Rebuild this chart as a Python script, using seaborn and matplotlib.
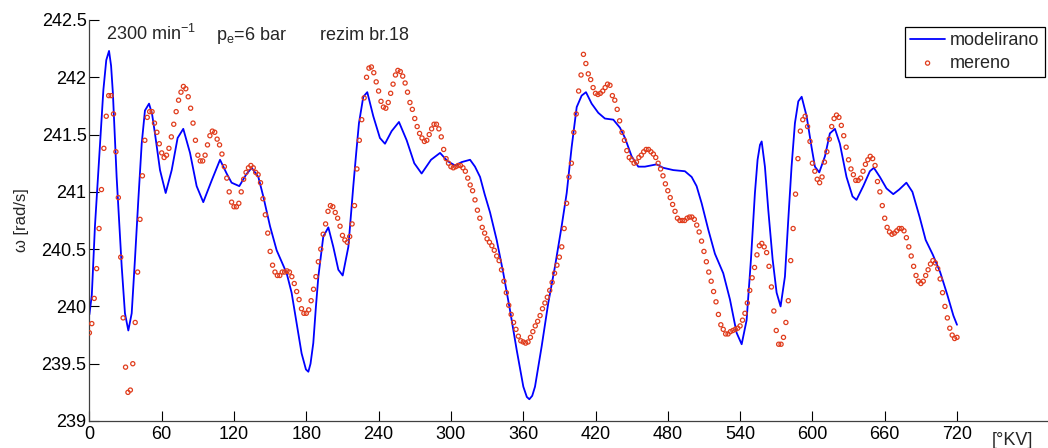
import matplotlib
matplotlib.use("Agg")
import matplotlib.pyplot as plt
import seaborn as sns

# model curve: crank angle [deg] and omega [rad/s]
mod_deg = [0, 2, 4.6, 8.8, 11.6, 14, 16.3, 18, 19.5, 22.6, 26.8, 29.5, 32.3, 35.1, 37.8,
           40.6, 43.4, 46.1, 49.5, 52, 54.4, 58.6, 63.3, 68.3, 73.2, 77.9, 83.5, 89.0, 94.5,
           101.5, 108.4, 113.9, 118, 124.4, 130, 134.7, 140.2, 144.3, 149.9, 155.4, 163.7,
           167.8, 172.0, 176.1, 179.7, 181.7, 183.5, 185.8, 188, 190.0, 194.1, 198.3, 202.4,
           206.6, 210.2, 214.9, 219.0, 221.5, 223.7, 227.3, 230.6, 235.6, 241.1, 245.3, 250.8,
           256.9, 263.3, 269.6, 275.7, 283.5, 291.0, 297, 303.4, 309, 315.9, 320, 324.2, 328,
           332.5, 338.0, 343.5, 349.0, 354.6, 360.1, 363, 365.1, 367.5, 369.8, 375.3, 380.8,
           386.4, 391.9, 396.1, 400.2, 404.4, 408.5, 412.1, 416.8, 422.3, 427.8, 434.8, 440.3,
           444.5, 450.0, 455.5, 461.0, 470.7, 476.2, 484.5, 494.2, 499.8, 503.9, 508.1, 513.6,
           519.1, 526.0, 531.6, 537.1, 541.3, 545.4, 549.0, 552.3, 554.5, 556.5, 557.9, 560.6,
           563.4, 567.0, 570.3, 573.6, 577.2, 580.0, 582.7, 585.5, 588.3, 591.1, 595.2, 599.3,
           602.1, 605.7, 610.4, 614.5, 618.7, 622.8, 628.3, 633.3, 636.6, 642.2, 647.7, 651.0,
           656.0, 661.5, 667.1, 672, 678, 683, 689, 694, 700, 706, 712, 717, 720]
mod_val = [239.93, 240.10, 240.70, 241.42, 241.89, 242.15, 242.23, 242.10, 241.86, 241.13,
           240.35, 239.94, 239.79, 239.94, 240.41, 240.93, 241.42, 241.71, 241.77, 241.68,
           241.51, 241.19, 240.99, 241.19, 241.47, 241.55, 241.34, 241.05, 240.91, 241.10,
           241.28, 241.16, 241.08, 241.05, 241.15, 241.21, 241.13, 240.96, 240.70, 240.49,
           240.29, 240.12, 239.85, 239.59, 239.45, 239.43, 239.50, 239.68, 240.00, 240.26,
           240.61, 240.69, 240.52, 240.32, 240.27, 240.52, 241.05, 241.35, 241.60, 241.83,
           241.87, 241.66, 241.47, 241.42, 241.53, 241.61, 241.45, 241.25, 241.16, 241.28,
           241.34, 241.27, 241.23, 241.26, 241.28, 241.22, 241.13, 240.98, 240.82, 240.58,
           240.29, 239.97, 239.62, 239.30, 239.21, 239.19, 239.22, 239.30, 239.65, 240.03,
           240.35, 240.70, 240.99, 241.39, 241.74, 241.84, 241.87, 241.77, 241.69, 241.64,
           241.63, 241.56, 241.47, 241.31, 241.22, 241.22, 241.24, 241.21, 241.19, 241.18,
           241.13, 241.05, 240.90, 240.67, 240.46, 240.29, 240.06, 239.77, 239.67, 239.88,
           240.41, 240.99, 241.28, 241.41, 241.44, 241.22, 240.84, 240.41, 240.12, 240.00,
           240.26, 240.76, 241.22, 241.60, 241.79, 241.83, 241.66, 241.39, 241.22, 241.17,
           241.31, 241.51, 241.55, 241.42, 241.13, 240.96, 240.93, 241.05, 241.18, 241.21,
           241.13, 241.03, 240.98, 241.02, 241.08, 241.00, 240.78, 240.58, 240.45, 240.30,
           240.10, 239.92, 239.84]

# measured points, every 2 deg crank angle
mer_deg = list(range(0, 721, 2))
mer_val = [
    239.77, 239.85, 240.07, 240.33, 240.68, 241.02, 241.38, 241.66, 241.84, 241.84,
    241.68, 241.35, 240.95, 240.43, 239.90, 239.47, 239.25, 239.27, 239.50, 239.86,
    240.30, 240.76, 241.14, 241.45, 241.65, 241.70, 241.70, 241.60, 241.52, 241.42,
    241.34, 241.30, 241.32, 241.38, 241.48, 241.59, 241.70, 241.80, 241.87, 241.92,
    241.90, 241.83, 241.73, 241.60, 241.45, 241.32, 241.27, 241.27, 241.32, 241.41,
    241.49, 241.53, 241.52, 241.46, 241.41, 241.33, 241.22, 241.12, 241.00, 240.91,
    240.87, 240.87, 240.90, 241.00, 241.11, 241.17, 241.21, 241.23, 241.21, 241.17,
    241.15, 241.08, 240.94, 240.80, 240.64, 240.48, 240.36, 240.30, 240.27, 240.27,
    240.30, 240.30, 240.31, 240.30, 240.26, 240.20, 240.13, 240.06, 239.98, 239.94,
    239.94, 239.97, 240.05, 240.15, 240.26, 240.39, 240.50, 240.63, 240.72, 240.83,
    240.88, 240.87, 240.82, 240.77, 240.70, 240.62, 240.58, 240.56, 240.61, 240.72,
    240.88, 241.20, 241.45, 241.63, 241.82, 242.00, 242.08, 242.09, 242.04, 241.96,
    241.88, 241.79, 241.74, 241.73, 241.78, 241.86, 241.94, 242.02, 242.06, 242.05,
    242.01, 241.95, 241.87, 241.78, 241.72, 241.64, 241.57, 241.51, 241.47, 241.44,
    241.45, 241.50, 241.55, 241.59, 241.59, 241.55, 241.48, 241.37, 241.29, 241.25,
    241.22, 241.21, 241.22, 241.23, 241.23, 241.21, 241.18, 241.12, 241.06, 241.01,
    240.93, 240.84, 240.77, 240.69, 240.64, 240.59, 240.56, 240.53, 240.49, 240.44,
    240.40, 240.32, 240.22, 240.12, 240.01, 239.93, 239.86, 239.80, 239.74, 239.70,
    239.69, 239.68, 239.69, 239.73, 239.78, 239.83, 239.87, 239.92, 239.98, 240.03,
    240.08, 240.14, 240.21, 240.29, 240.36, 240.43, 240.52, 240.68, 240.90, 241.13,
    241.25, 241.52, 241.68, 241.88, 242.02, 242.20, 242.12, 242.03, 241.98, 241.91,
    241.86, 241.85, 241.86, 241.88, 241.91, 241.94, 241.93, 241.84, 241.80, 241.72,
    241.62, 241.52, 241.45, 241.36, 241.30, 241.28, 241.25, 241.26, 241.30, 241.32,
    241.35, 241.37, 241.37, 241.35, 241.33, 241.30, 241.25, 241.20, 241.14, 241.07,
    241.01, 240.95, 240.89, 240.83, 240.77, 240.75, 240.75, 240.75, 240.77, 240.78,
    240.78, 240.76, 240.71, 240.65, 240.57, 240.48, 240.39, 240.30, 240.22, 240.13,
    240.04, 239.93, 239.84, 239.80, 239.76, 239.76, 239.78, 239.79, 239.80, 239.81,
    239.83, 239.88, 239.94, 240.03, 240.14, 240.25, 240.34, 240.45, 240.53, 240.55,
    240.52, 240.47, 240.35, 240.17, 239.96, 239.79, 239.67, 239.67, 239.73, 239.86,
    240.05, 240.40, 240.68, 240.98, 241.29, 241.53, 241.63, 241.66, 241.57, 241.44,
    241.25, 241.18, 241.11, 241.08, 241.13, 241.26, 241.35, 241.46, 241.57, 241.64,
    241.67, 241.65, 241.58, 241.49, 241.39, 241.28, 241.20, 241.15, 241.10, 241.10,
    241.12, 241.18, 241.24, 241.28, 241.31, 241.29, 241.23, 241.09, 241.00, 240.88,
    240.77, 240.69, 240.65, 240.63, 240.64, 240.66, 240.68, 240.68, 240.66, 240.60,
    240.52, 240.44, 240.35, 240.27, 240.22, 240.20, 240.22, 240.27, 240.32, 240.37,
    240.40, 240.38, 240.33, 240.24, 240.12, 240.00, 239.90, 239.81, 239.75, 239.72,
    239.73]

x_ticks = list(range(0, 721, 60))
y_ticks = [239, 239.5, 240, 240.5, 241, 241.5, 242, 242.5]

sns.set_style("ticks")
plt.rcParams["font.family"] = ["Liberation Sans", "DejaVu Sans"]
plt.rcParams["mathtext.default"] = "regular"

W, H = 1048, 448
fig = plt.figure(figsize=(W / 100, H / 100), dpi=100)
ax = fig.add_axes([89.4 / W, 1 - 421 / H, 1 - 89.4 / W, 401 / H])

sns.lineplot(x=mod_deg, y=mod_val, color="#0000ff", linewidth=1.3, sort=False,
             estimator=None, ax=ax, label="modelirano")
sns.scatterplot(x=mer_deg, y=mer_val, marker="o", s=9, facecolors="none",
                edgecolor="#e03c1c", linewidth=0.9, ax=ax, label="mereno", zorder=3)

ax.set_xlim(0, (W - 89.4) / 1.205)
ax.set_ylim(239, 242.5)
ax.set_xticks(x_ticks)
ax.set_xticklabels([str(t) for t in x_ticks])
ax.set_yticks(y_ticks)
ax.set_yticklabels([f"{t:g}" for t in y_ticks])
ax.tick_params(direction="in", length=7, width=0.8, labelsize=13, colors="black")
ax.tick_params(axis="y", pad=2)
sns.despine(ax=ax)
for s in ["left", "bottom"]:
    ax.spines[s].set_color("#404040")
    ax.spines[s].set_linewidth(0.9)

ax.set_xlabel("")
ax.set_ylabel("ω [rad/s]", fontsize=12)
ax.yaxis.set_label_coords(-0.063, 0.5)
fig.text(1012 / W, 1 - 440 / H, "[°KV]", fontsize=13, ha="center", va="center")

ytxt = (421 - 40) / 401
ax.text((106 - 89.4) / 958.6, ytxt, "2300 min$^{-1}$", fontsize=13,
        transform=ax.transAxes, va="baseline")
ax.text((216 - 89.4) / 958.6, ytxt, "p$_e$=6 bar", fontsize=13,
        transform=ax.transAxes, va="baseline")
ax.text((320 - 89.4) / 958.6, ytxt, "rezim br.18", fontsize=13,
        transform=ax.transAxes, va="baseline")

leg = ax.legend(loc="upper left", bbox_to_anchor=((905 - 89.4) / 958.6, (421 - 27) / 401),
                borderaxespad=0, frameon=True, fancybox=False, fontsize=13,
                handlelength=1.9, labelspacing=0.3, borderpad=0.3, handletextpad=0.3)
leg.get_frame().set_edgecolor("black")
leg.get_frame().set_linewidth(0.9)
leg.get_frame().set_alpha(1)

fig.savefig("out.png", dpi=100)
